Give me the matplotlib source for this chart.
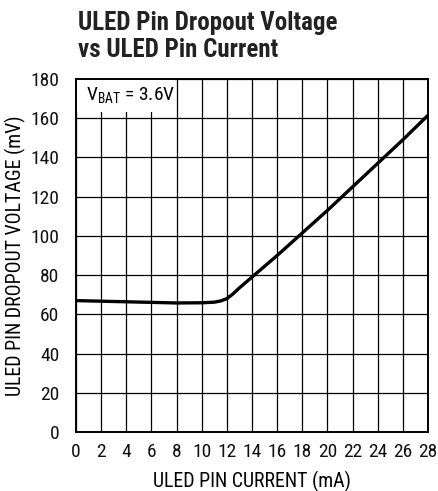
import matplotlib
matplotlib.use("Agg")
import matplotlib.pyplot as plt
from matplotlib.patches import Rectangle
from matplotlib import font_manager

names = {f.name for f in font_manager.fontManager.ttflist}
fam = "Liberation Sans"
narrow = False
for cand in ["Liberation Sans Narrow", "Roboto Condensed", "Open Sans Condensed",
             "Noto Sans Condensed", "DejaVu Sans Condensed", "Arial Narrow"]:
    if cand in names:
        fam = cand
        narrow = True
        break
plt.rcParams['font.family'] = [fam, 'DejaVu Sans']
plt.rcParams['mathtext.fontset'] = 'custom'
plt.rcParams['mathtext.rm'] = fam

current_ma = [0, 2, 4, 6, 8, 10, 11, 11.5, 12, 12.5, 13, 14, 16, 18, 20, 22, 24, 26, 28]
dropout_mv = [67, 66.7, 66.4, 66.1, 65.8, 65.9, 66.2, 66.8, 68, 70.5, 73.5, 79, 90, 101.5, 113, 125, 137, 149, 161.5]
x_ticks = list(range(0, 29, 2))
y_ticks = list(range(0, 181, 20))

tick_fs = 14 if narrow else 11.5
label_fs = 14.3 if narrow else 11.5
title_fs = 18 if narrow else 15.5

fig = plt.figure(figsize=(4.38, 4.91), dpi=100)
ax = fig.add_axes([76/438, 1-432/491, 352/438, 353/491])
ax.set_xlim(0, 28)
ax.set_ylim(0, 180)
ax.set_xticks(x_ticks)
ax.set_yticks(y_ticks)
ax.tick_params(length=0, labelsize=tick_fs, pad=8, labelcolor='#111111')
ax.tick_params(axis='y', pad=12)
ax.grid(True, color='black', linewidth=0.9)
ax.set_axisbelow(True)
for s in ax.spines.values():
    s.set_linewidth(1.4)

ax.add_patch(Rectangle((0.05, 163), 7.85, 16.9, facecolor='white', edgecolor='none', zorder=1))
ax.text(0.8, 169.5, r'$\mathregular{V_{BAT}}$ = 3.6V', fontsize=tick_fs, zorder=3)

ax.plot(current_ma, dropout_mv, color='black', linewidth=2.4, zorder=4,
        solid_capstyle='round', solid_joinstyle='round')

ax.set_xlabel('ULED PIN CURRENT (mA)', fontsize=label_fs, labelpad=7)
ax.set_ylabel('ULED PIN DROPOUT VOLTAGE (mV)', fontsize=label_fs)
ax.yaxis.set_label_coords(-(76 - 26) / 352, 0.5)

fig.text(78/438, 1-57/491, 'ULED Pin Dropout Voltage\nvs ULED Pin Current',
         fontsize=title_fs, fontweight='bold', ha='left', va='baseline', linespacing=1.15,
         color='#222222')

fig.savefig('out.png', dpi=100)
